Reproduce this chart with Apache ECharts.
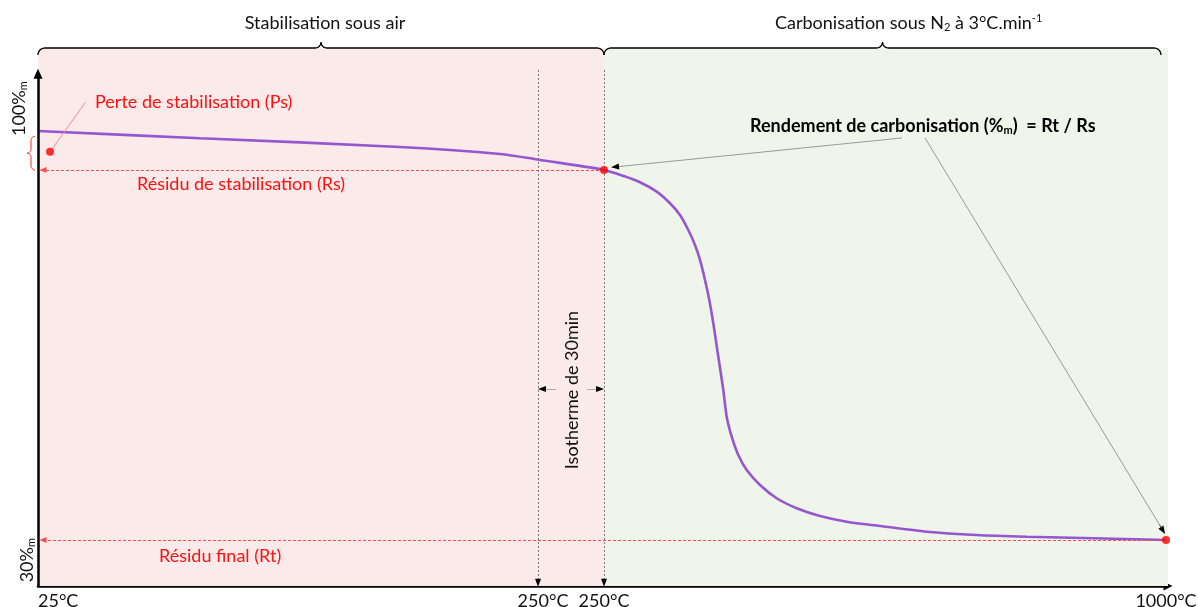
<!DOCTYPE html>
<html><head><meta charset="utf-8">
<script src="https://cdn.jsdelivr.net/npm/echarts@6/dist/echarts.min.js"></script>
<style>html,body{margin:0;padding:0;background:#fff}#c{width:1198px;height:607px}</style>
</head><body><div id="c"></div>
<script>
// ---- data (x = position along the thermal programme, y = mass %) ----
const curveX = [0, 162, 362, 462, 502, 566, 585.3, 602, 618.7, 632, 642, 650.3, 657, 662, 667, 671.3, 675.3, 679.3, 685.3, 688.7, 693.7, 700.3, 708.7, 722, 738.7, 758.7, 782, 808.7, 842, 888.7, 938.7, 988.7, 1055.3, 1128];
const curveY = [96.54, 95.41, 94.06, 92.98, 92.05, 90.5, 89.57, 88.59, 87.13, 85.33, 83.52, 81.19, 78.87, 76.54, 73.44, 70.34, 66.73, 62.59, 56.39, 52.25, 49.15, 46.31, 43.98, 41.66, 39.6, 38.05, 36.85, 35.97, 35.3, 34.42, 33.91, 33.64, 33.4, 33.13];
const psPoint = [12, 93.3];
const rsPoint = [566, 90.5];
const rtPoint = [1128, 33.13];
const isoStartX = 500;
const stabEndX = 566;
const carbEndX = 1130;
const xTickValues = [0, 500, 566, 1128];
const xTickLabels = ['25°C', '250°C', '250°C', '1000°C'];
const yTickValues = [100, 30];
const yTickLabels = ['100%', '30%'];
const phaseLabels = ['{t|Stabilisation sous air}', '{t|Carbonisation sous N}{sub|2}{t| à 3°C.min}{sup|-1}'];
const yMin = 26, yMax = 109.4, yAxisTop = 105.4;

const FONT = 'Lato, "Noto Sans", sans-serif';
const chart = echarts.init(document.getElementById('c'), null, {renderer: 'canvas'});
const curve = curveX.map((x, i) => [x, curveY[i]]);

function seg(a, b, color, width, type, endSym, size) {
  return [{coord: a, symbol: 'none', lineStyle: {color: color, width: width, type: type}},
          {coord: b, symbol: endSym || 'none', symbolSize: size || [6, 7]}];
}
function arrow(a, b, lineColor, type, t) {
  t = t || 0.985;
  const c = [a[0] + (b[0] - a[0]) * t, a[1] + (b[1] - a[1]) * t];
  return [seg(a, b, lineColor, 1, type || 'solid'), seg(c, b, '#000', 0.5, 'solid', 'triangle', [6, 8])];
}
const arrowA = arrow([864, 95.46], [577, 90.96], '#9a9a9a');
const arrowB = arrow([887, 95.46], [1125, 34.6], '#9a9a9a');
const isoL = arrow([518, 56.54], [504, 56.54], '#aaaaaa');
const isoR = arrow([549, 56.54], [562, 56.54], '#aaaaaa');
const vIso = arrow([isoStartX, 106], [isoStartX, 26.5], '#777', [2, 2], 0.995);
const vStab = arrow([stabEndX, 106], [stabEndX, 26.5], '#777', [2, 2], 0.995);

const option = {
  animation: false,
  grid: {left: 38, right: 30, top: 48, bottom: 21, containLabel: false, outerBoundsMode: 'none'},
  xAxis: {
    type: 'value', min: 0, max: carbEndX,
    splitLine: {show: false}, axisTick: {show: false},
    axisLine: {lineStyle: {color: '#000', width: 2.5}, symbol: ['none', 'triangle'], symbolSize: [9, 9]},
    axisLabel: {
      customValues: xTickValues,
      formatter: v => {
        const i = xTickValues.indexOf(v);
        return (i === 1 ? '{p|' : '{q|') + xTickLabels[i] + '}';
      },
      rich: {
        p: {fontSize: 18, fontFamily: FONT, color: '#111', padding: [0, 0, 0, 10]},
        q: {fontSize: 18, fontFamily: FONT, color: '#111'}
      },
      margin: 6, color: '#111', fontSize: 18, fontFamily: FONT,
      alignMinLabel: 'left', showMinLabel: true, showMaxLabel: true, hideOverlap: false
    }
  },
  yAxis: {
    type: 'value', min: yMin, max: yMax,
    axisLine: {show: false}, axisTick: {show: false}, axisLabel: {show: false}, splitLine: {show: false}
  },
  series: [
    {
      type: 'line', data: [], z: 1, silent: true,
      markArea: {
        silent: true,
        data: [
          [{xAxis: 0, yAxis: yMin, itemStyle: {color: '#fbeaea'}}, {xAxis: stabEndX, yAxis: yMax}],
          [{xAxis: stabEndX, yAxis: yMin, itemStyle: {color: '#eff5eb'}}, {xAxis: carbEndX, yAxis: yMax}]
        ]
      }
    },
    {
      type: 'line', data: curve, z: 3, silent: true, clip: false,
      symbol: 'none', smooth: 0.3,
      lineStyle: {color: '#9656cf', width: 2.6}
    },
    {
      type: 'scatter', data: [psPoint, rsPoint, rtPoint], z: 5, silent: true, clip: false,
      symbolSize: 8, itemStyle: {color: '#ff0000'},
      markLine: {
        silent: true, symbol: 'none', label: {show: false}, animation: false,
        emphasis: {disabled: true},
        data: [
          seg([0, yMin], [0, yAxisTop], '#000', 2.5, 'solid', 'triangle', [9, 10]),
          seg(rsPoint, [5, rsPoint[1]], '#ff4a4a', 1, [3, 2], 'triangle', [6, 7]),
          seg(rtPoint, [5, rtPoint[1]], '#ff4a4a', 1, [3, 2], 'triangle', [6, 7]),
          ...vIso, ...vStab,
          seg(psPoint, [47, 100.9], '#ff8a8a', 1, 'solid'),
          ...arrowA, ...arrowB, ...isoL, ...isoR
        ]
      }
    }
  ]
};
chart.setOption(option);

// ---- decorations positioned through the chart's own scales ----
const px = (x, y) => chart.convertToPixel({gridIndex: 0}, [x, y]);
function bracePts(a, b, base, rEnd, rTip, vertical) {
  const pts = [];
  const m = (a + b) / 2;
  const arc = (cu, cv, r, t0, t1) => {
    for (let i = 0; i <= 10; i++) { const t = t0 + (t1 - t0) * i / 10; pts.push([cu + r * Math.cos(t), cv + r * Math.sin(t)]); }
  };
  arc(a + rEnd, rEnd, rEnd, Math.PI, 1.5 * Math.PI);
  arc(m - rTip, -rTip, rTip, 0.5 * Math.PI, 0);
  arc(m + rTip, -rTip, rTip, Math.PI, 0.5 * Math.PI);
  arc(b - rEnd, rEnd, rEnd, 1.5 * Math.PI, 2 * Math.PI);
  return pts.map(([u, v]) => vertical ? [base + v, u] : [u, base + v]);
}
const x0 = px(0, yMin)[0], xS = px(stabEndX, yMin)[0], xE = px(1123, yMin)[0];
const topY = px(0, yMax)[1];
const yRsPx = px(0, rsPoint[1])[1], yStartPx = px(0, 95.7)[1];
const rich = (size, bold, color) => ({
  t: {fontSize: size, fontFamily: FONT, fontWeight: bold ? 'bold' : 'normal', color: color, lineHeight: 22},
  sub: {fontSize: 11, fontFamily: FONT, fontWeight: bold ? 'bold' : 'normal', color: color, lineHeight: 22, padding: [9, 0, 0, 0]},
  sup: {fontSize: 11, fontFamily: FONT, fontWeight: bold ? 'bold' : 'normal', color: color, lineHeight: 22, padding: [0, 0, 9, 0]}
});
function txt(x, y, text, opt) {
  opt = opt || {};
  return {
    type: 'text', x: x, y: y, rotation: opt.rot || 0, z: 50, silent: true,
    style: {
      text: text, rich: rich(18, opt.bold, opt.color || '#111'),
      fontSize: 18, fontFamily: FONT, fontWeight: opt.bold ? 'bold' : 'normal', fill: opt.color || '#111',
      align: opt.align || 'left', verticalAlign: 'middle'
    }
  };
}
const graphics = [
  {type: 'polyline', shape: {points: bracePts(x0, xS, topY, 7, 6, false)}, style: {stroke: '#000', lineWidth: 1.3, fill: null}, z: 40, silent: true},
  {type: 'polyline', shape: {points: bracePts(xS, xE, topY, 7, 6, false)}, style: {stroke: '#000', lineWidth: 1.3, fill: null}, z: 40, silent: true},
  {type: 'polyline', shape: {points: bracePts(yStartPx, yRsPx, 31, 4, 4, true)}, style: {stroke: '#ff2020', lineWidth: 1, fill: null}, z: 40, silent: true},
  txt((x0 + xS) / 2 + 4, 23, phaseLabels[0], {align: 'center'}),
  txt(775, 23, phaseLabels[1], {}),
  txt(95, 102, '{t|Perte de stabilisation (Ps)}', {color: '#ff1010'}),
  txt(137, 184, '{t|Résidu de stabilisation (Rs)}', {color: '#ff1010'}),
  txt(159, 556, '{t|Résidu final (Rt)}', {color: '#ff1010'}),
  txt(750, 126, '{t|Rendement de carbonisation (%}{sub|m}{t|)  = Rt / Rs}', {bold: true, color: '#000'}),
  txt(572, 390, '{t|Isotherme de 30min}', {rot: Math.PI / 2, align: 'center'}),
  txt(19, px(0, yTickValues[0])[1], '{t|' + yTickLabels[0] + '}{sub|m}', {rot: Math.PI / 2, align: 'center'}),
  txt(27, px(0, yTickValues[1])[1], '{t|' + yTickLabels[1] + '}{sub|m}', {rot: Math.PI / 2, align: 'center'})
];
chart.setOption({graphic: graphics});
</script></body></html>
